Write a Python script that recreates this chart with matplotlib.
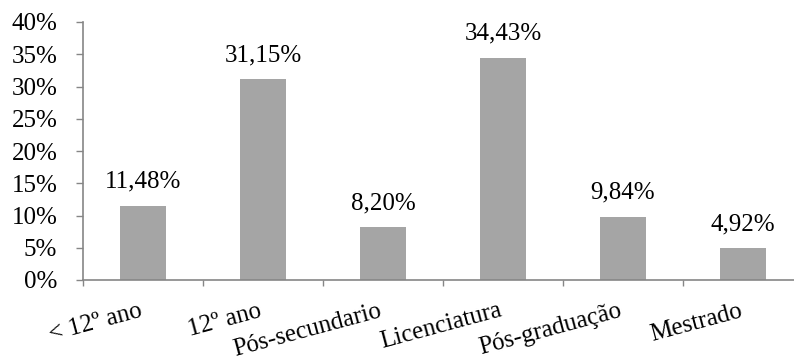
import matplotlib.pyplot as plt
import numpy as np

plt.rcParams['font.family'] = ['Liberation Serif', 'DejaVu Serif']

categories = ['< 12º ano', '12º ano', 'Pós-secundario', 'Licenciatura',
              'Pós-graduação', 'Mestrado']
values = [11.48, 31.15, 8.20, 34.43, 9.84, 4.92]
value_labels = ['11,48%', '31,15%', '8,20%', '34,43%', '9,84%', '4,92%']
y_ticks = [0, 5, 10, 15, 20, 25, 30, 35, 40]

FS = 18
W, H = 794, 363
fig = plt.figure(figsize=(W / 100, H / 100), dpi=100)
ax = fig.add_axes([83 / W, 1 - 280 / H, (794 - 83) / W, (280 - 22) / H])

x = np.arange(len(categories))
ax.bar(x, values, width=0.39, color='#a5a5a5', zorder=2)

for xi, v, lab in zip(x, values, value_labels):
    ax.annotate(lab, (xi, v), xytext=(0, 13), textcoords='offset points',
                ha='center', va='baseline', fontsize=FS)

ax.set_xlim(-0.5, 5.5 - 9 / 120)
ax.set_ylim(0, 40)
ax.set_yticks(y_ticks)
ax.set_yticklabels([f'{t}%' for t in y_ticks], fontsize=FS)

# category ticks sit between bars, labels end under the middle of each bar
ax.set_xticks(np.arange(-0.5, 5.5, 1.0))
ax.set_xticklabels([])
ax.set_xticks(x, minor=True)
ax.set_xticklabels(categories, minor=True, rotation=15, ha='right',
                   va='baseline', rotation_mode='anchor', fontsize=FS)
ax.tick_params(axis='x', which='minor', length=0, pad=26)
ax.tick_params(axis='x', which='major', length=4.5, color='#868686', width=1)
ax.tick_params(axis='y', length=5, color='#868686', width=1, pad=13.5)

for side in ['top', 'right']:
    ax.spines[side].set_visible(False)
for side in ['left', 'bottom']:
    ax.spines[side].set_color('#868686')
    ax.spines[side].set_linewidth(1.2)

fig.savefig('out.png', dpi=100)
